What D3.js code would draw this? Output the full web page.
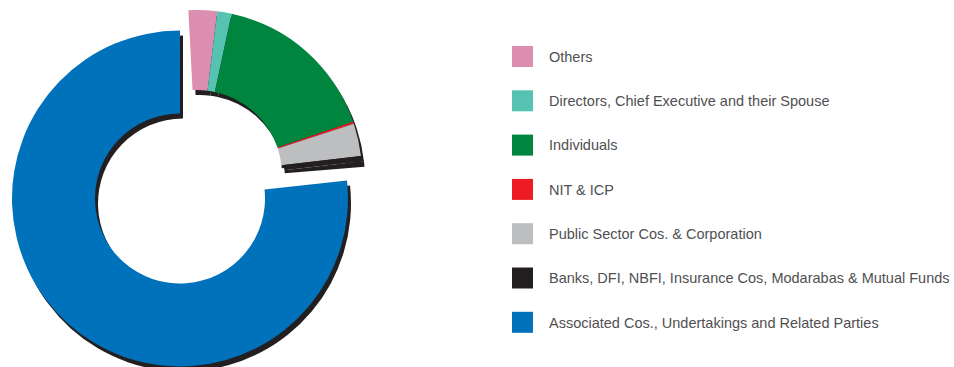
<!DOCTYPE html>
<html>
<head>
<meta charset="utf-8">
<script src="https://cdn.jsdelivr.net/npm/d3@7"></script>
<style>
  html, body { margin: 0; padding: 0; background: #ffffff; }
  svg { display: block; }
</style>
</head>
<body>
<svg id="chart" width="954" height="367"></svg>
<script>
// Pattern of shareholding (% of total shares)
const categories = [
  "Others",
  "Directors, Chief Executive and their Spouse",
  "Individuals",
  "NIT & ICP",
  "Public Sector Cos. & Corporation",
  "Banks, DFI, NBFI, Insurance Cos, Modarabas & Mutual Funds",
  "Associated Cos., Undertakings and Related Parties"
];
const shares = [2.8, 1.4, 16.4, 0.2, 3.2, 0.55, 76.7];
const colors = ["#db8eaf", "#56c2b2", "#00853f", "#ed1c24", "#bcbec0", "#231f20", "#0071bb"];

const svg = d3.select("#chart");
const deg = Math.PI / 180;
const shadowColor = "#231f20";
const shadowOffset = [3, 5];

const rows = categories.map((c, i) => ({ name: c, value: shares[i], color: colors[i] }));
const minority = rows.slice(0, 6);      // pulled-out wedge
const majority = rows.slice(6);         // associated companies ring

// angle per percentage point
const angle = d3.scaleLinear().domain([0, 100]).range([0, 360 * deg]);

const minorityStart = -3 * deg;
const minorityPie = d3.pie().sort(null).value(d => d.value)
  .startAngle(minorityStart)
  .endAngle(minorityStart + angle(d3.sum(minority, d => d.value)));

const majorityPie = d3.pie().sort(null).value(d => d.value)
  .startAngle(2 * Math.PI - angle(d3.sum(majority, d => d.value)))
  .endAngle(2 * Math.PI);

const pieces = [
  { arcs: majorityPie(majority), cx: 180, cy: 198.5,
    arc: d3.arc().innerRadius(85).outerRadius(168) },
  { arcs: minorityPie(minority), cx: 197, cy: 175,
    arc: d3.arc().innerRadius(85).outerRadius(165) }
];

// drop shadows first
pieces.forEach(p => {
  svg.append("g")
    .attr("transform", `translate(${p.cx + shadowOffset[0]},${p.cy + shadowOffset[1]})`)
    .selectAll("path").data(p.arcs).join("path")
    .attr("d", p.arc)
    .attr("fill", shadowColor);
});

// coloured slices
pieces.forEach(p => {
  svg.append("g")
    .attr("transform", `translate(${p.cx},${p.cy})`)
    .selectAll("path").data(p.arcs).join("path")
    .attr("d", p.arc)
    .attr("fill", d => d.data.color);
});

// legend
const legendY = d3.scalePoint().domain(categories).range([56.5, 322.3]);
const legend = svg.append("g").attr("class", "legend");
const item = legend.selectAll("g").data(rows).join("g")
  .attr("transform", d => `translate(512,${legendY(d.name)})`);
item.append("rect")
  .attr("x", 0).attr("y", -10.5)
  .attr("width", 21).attr("height", 21)
  .attr("fill", d => d.color);
item.append("text")
  .attr("x", 37).attr("y", 0)
  .attr("dy", "0.36em")
  .attr("font-family", "Liberation Sans, Arial, sans-serif")
  .attr("font-size", 14.5)
  .attr("fill", "#505052")
  .text(d => d.name);
</script>
</body>
</html>
